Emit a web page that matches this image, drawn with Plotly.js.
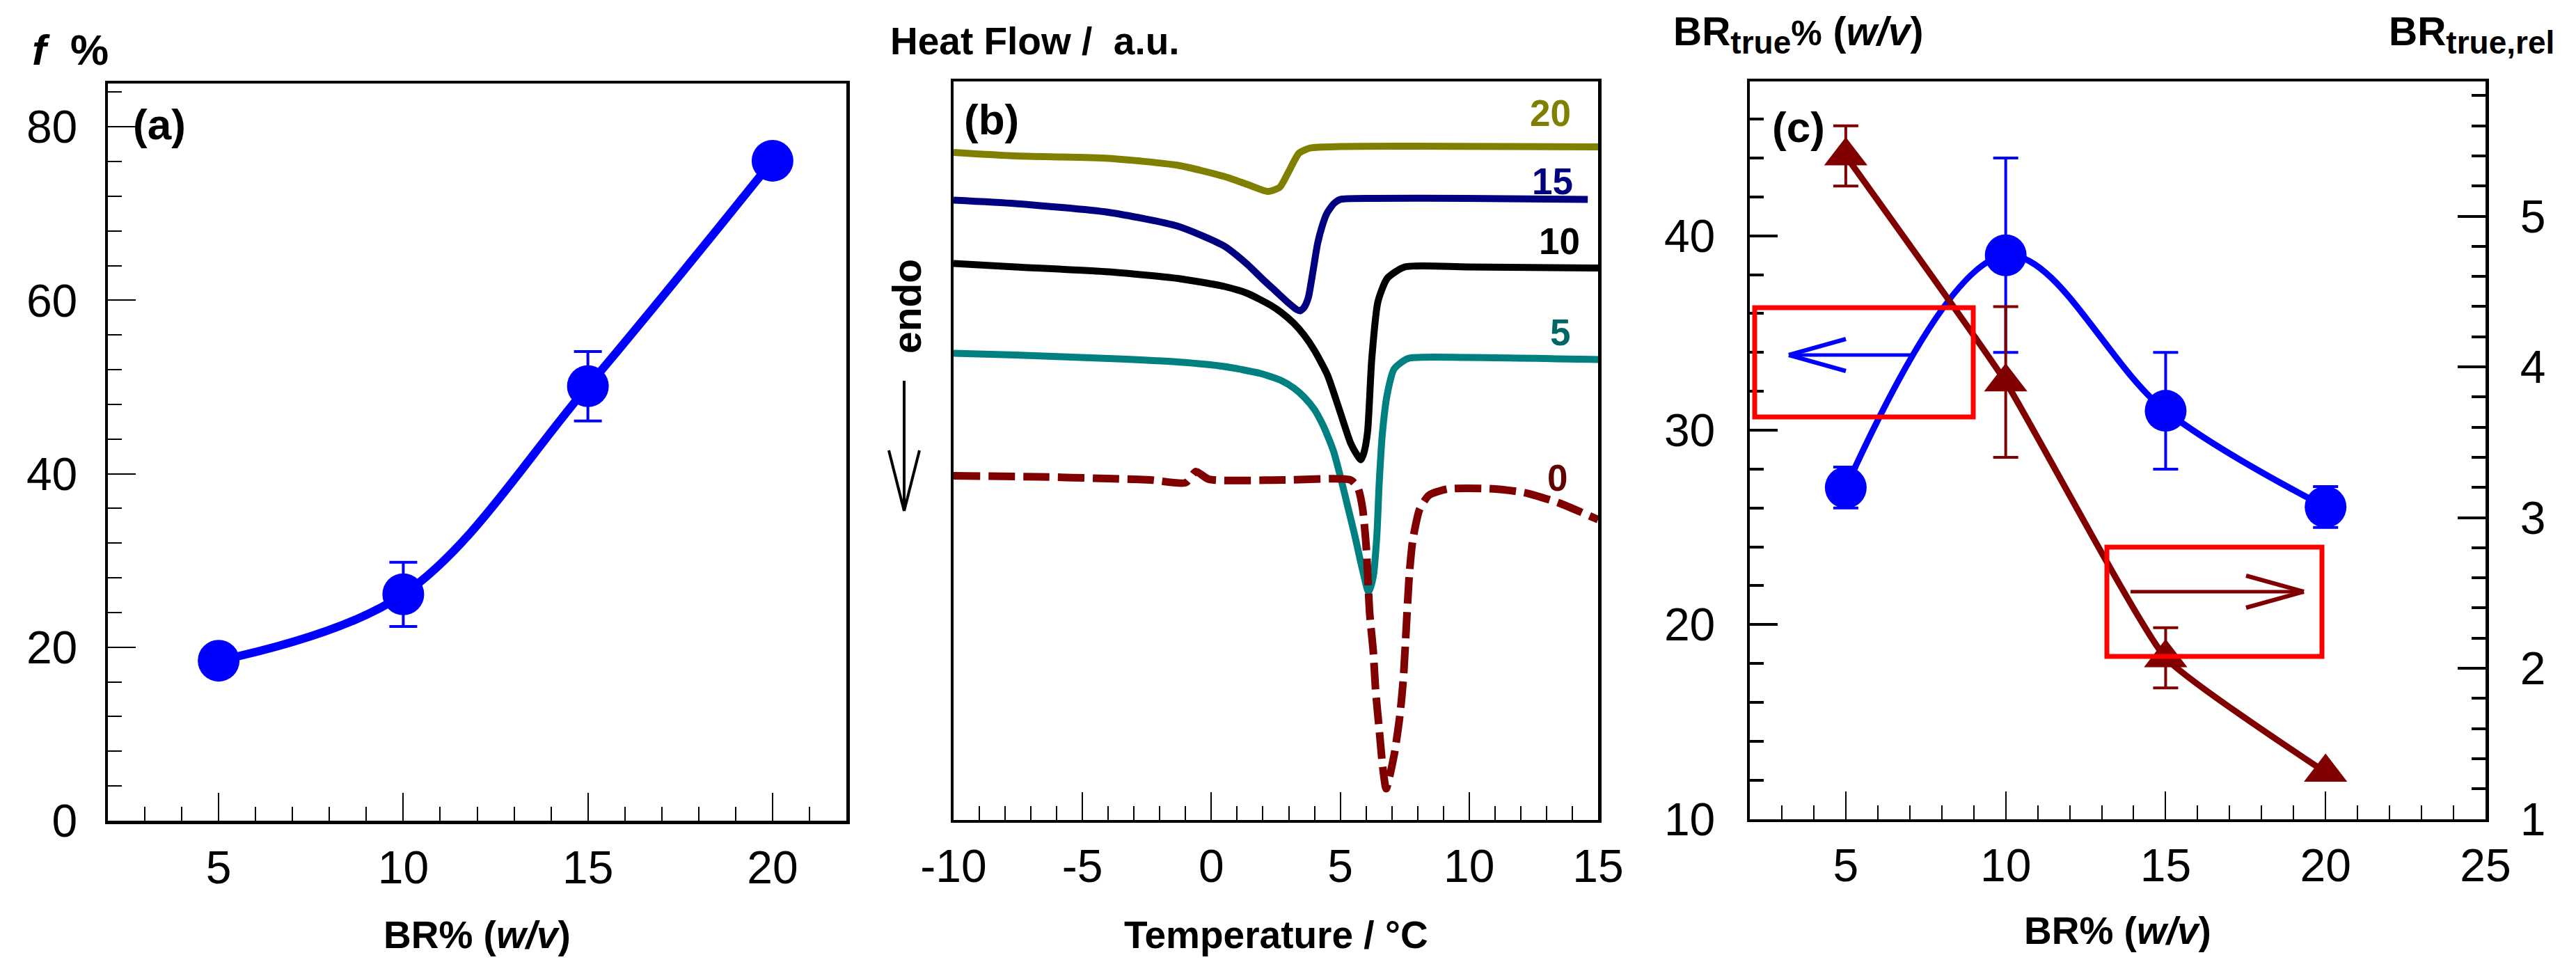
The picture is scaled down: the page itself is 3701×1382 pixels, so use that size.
<!DOCTYPE html>
<html>
<head>
<meta charset="utf-8">
<script src="https://cdn.plot.ly/plotly-3.0.1.min.js"></script>
<style>html,body{margin:0;padding:0;background:#fff;}#chart{width:3701px;height:1382px;}</style>
</head>
<body>
<div id="chart"></div>
<script>
// ---------- Panel (a): f % vs BR% ----------
const brA = [5, 10, 15, 20];
const fA = [18.45, 26.1, 50.1, 76.1];
const fErrA = [1.5, 3.7, 4.0, 1.5];

// ---------- Panel (b): DSC curves (Temperature / °C, heat flow a.u.) ----------
const tB20 = [-10, -7.6, -4.0, -1.3, 0.5, 1.4, 2.2, 2.65, 3.0, 3.4, 3.85, 5.0, 7.2, 11.7, 15];
const hB20 = [95.85, 95.35, 95.0, 94.0, 92.4, 91.25, 90.25, 90.85, 93.1, 95.75, 96.5, 96.7, 96.75, 96.7, 96.65];

const tB15 = [-10, -7.6, -4.0, -1.3, 0.5, 1.4, 2.0, 2.5, 3.0, 3.3, 3.45, 3.6, 3.76, 3.94, 4.12, 4.3, 4.48, 4.75, 5.0, 6.3, 9.9, 14.6];
const hB15 = [89.0, 88.5, 87.25, 85.25, 82.4, 79.75, 77.6, 75.9, 74.2, 73.3, 73.1, 73.6, 75.0, 78.75, 82.75, 85.3, 87.1, 88.5, 89.1, 89.25, 89.25, 89.1];

const tB10 = [-10, -7.6, -4.0, -1.3, 0.5, 1.4, 2.3, 2.7, 3.2, 3.6, 4.0, 4.5, 5.0, 5.4, 5.65, 5.8, 5.92, 6.06, 6.22, 6.46, 6.82, 7.5, 9.9, 15];
const hB10 = [79.9, 79.4, 78.7, 77.75, 76.6, 75.6, 73.9, 72.9, 71.3, 69.6, 67.4, 63.9, 58.5, 54.1, 52.4, 51.7, 52.75, 55.75, 66.1, 74.4, 77.75, 79.4, 79.4, 79.25];

const tB5 = [-10, -7.6, -4.0, -1.3, 0.5, 1.9, 2.7, 3.2, 3.6, 4.0, 4.3, 4.44, 4.75, 5.02, 5.29, 5.56, 5.83, 6.1, 6.28, 6.42, 6.51, 6.64, 6.82, 7.09, 7.63, 9.9, 15];
const hB5 = [67.0, 66.75, 66.25, 65.75, 65.1, 64.1, 63.1, 62.0, 60.7, 58.9, 56.9, 55.75, 52.8, 49.06, 44.97, 40.88, 36.42, 32.7, 34.93, 40.88, 48.32, 55.75, 61.08, 64.75, 66.25, 66.4, 66.1];

const tB0 = [-10, -6.7, -4.0, -2.35, -1.0, -0.6, -0.1, 2.8, 5.4, 5.69, 5.87, 6.01, 6.14, 6.28, 6.37, 6.51, 6.64, 6.78, 7.09, 7.31, 7.45, 7.59, 7.68, 7.81, 8.08, 8.44, 9.16, 10.78, 12.13, 13.48, 15];
const hB0 = [49.4, 49.25, 49.0, 48.8, 48.4, 50.0, 48.9, 48.8, 48.8, 47.6, 44.6, 39.0, 29.7, 24.15, 18.6, 13.0, 7.8, 4.45, 9.3, 14.9, 20.4, 29.7, 35.3, 40.1, 44.6, 46.6, 47.5, 47.55, 47.0, 45.5, 43.1];

const curveLabels = ['20', '15', '10', '5', '0'];
const tempTickVals = [-10, -5, 0, 5, 10, 15];
const tempTickText = ['-10', '-5', '0', '5', '10', '15'];

// ---------- Panel (c): BRtrue and BRtrue,rel vs BR% ----------
const brC = [5, 10, 15, 20];
const brTrue = [27.05, 39.0, 31.0, 26.05];
const brTrueErr = [1.05, 5.0, 3.0, 1.05];
const brRel = [5.40, 3.90, 2.07, 1.31];
const brRelErr = [0.2, 0.5, 0.2, 0];

// ---------- helpers (page pixel -> paper) ----------
const W = 3701, H = 1382;
const px = v => v / W;
const py = v => 1 - v / H;
const FONT = 'Liberation Sans, Arial, sans-serif';

const traces = [
  {x: brA, y: fA, xaxis: 'x', yaxis: 'y', type: 'scatter', mode: 'lines+markers',
   line: {color: '#0000FF', width: 12, shape: 'spline', smoothing: 1},
   marker: {color: '#0000FF', size: 60},
   error_y: {type: 'data', array: fErrA, visible: true, color: '#0000FF', thickness: 4, width: 20}},

  {x: tB20, y: hB20, xaxis: 'x2', yaxis: 'y2', type: 'scatter', mode: 'lines', name: curveLabels[0],
   line: {color: '#808000', width: 10, shape: 'spline', smoothing: 0.6}},
  {x: tB15, y: hB15, xaxis: 'x2', yaxis: 'y2', type: 'scatter', mode: 'lines', name: curveLabels[1],
   line: {color: '#000080', width: 10, shape: 'spline', smoothing: 0.6}},
  {x: tB10, y: hB10, xaxis: 'x2', yaxis: 'y2', type: 'scatter', mode: 'lines', name: curveLabels[2],
   line: {color: '#000000', width: 10, shape: 'spline', smoothing: 0.6}},
  {x: tB5, y: hB5, xaxis: 'x2', yaxis: 'y2', type: 'scatter', mode: 'lines', name: curveLabels[3],
   line: {color: '#008080', width: 10, shape: 'spline', smoothing: 0.6}},
  {x: tB0, y: hB0, xaxis: 'x2', yaxis: 'y2', type: 'scatter', mode: 'lines', name: curveLabels[4],
   line: {color: '#800000', width: 11, shape: 'spline', smoothing: 0.6, dash: '38px,12px'}},

  {x: brC, y: brTrue, xaxis: 'x3', yaxis: 'y3', type: 'scatter', mode: 'lines+markers',
   line: {color: '#0000FF', width: 9, shape: 'spline', smoothing: 1},
   marker: {color: '#0000FF', size: 60},
   error_y: {type: 'data', array: brTrueErr, visible: true, color: '#0000FF', thickness: 4, width: 18}},
  {x: brC, y: brRel, xaxis: 'x3', yaxis: 'y4', type: 'scatter', mode: 'lines+markers',
   line: {color: '#800000', width: 9, shape: 'spline', smoothing: 0.4},
   marker: {color: '#800000', size: 54, symbol: 'triangle-up'},
   error_y: {type: 'data', array: brRelErr, visible: true, color: '#800000', thickness: 4, width: 18}}
];

const tickFont = {family: FONT, size: 66, color: '#000'};
function xAx(domain, anchor, range, dtick, minorDtick) {
  return {domain, anchor, range, tick0: 0, dtick, ticks: 'inside', ticklen: 40, tickwidth: 2, tickcolor: '#000',
    minor: {dtick: minorDtick, tick0: 0, ticks: 'inside', ticklen: 20, tickwidth: 2, tickcolor: '#000'},
    showline: true, linewidth: 4.5, linecolor: '#000', mirror: true, showgrid: false, zeroline: false,
    tickfont: tickFont, ticklabelstandoff: 6, fixedrange: true};
}
function yAx(domain, anchor, range, dtick, minorDtick, tw, standoff) {
  return {domain, anchor, range, tick0: 0, dtick, ticks: 'inside', ticklen: 40, tickwidth: tw, tickcolor: '#000',
    minor: {dtick: minorDtick, tick0: 0, ticks: 'inside', ticklen: 20, tickwidth: tw, tickcolor: '#000'},
    showline: true, linewidth: 4.5, linecolor: '#000', mirror: true, showgrid: false, zeroline: false,
    tickfont: tickFont, ticklabelstandoff: standoff, fixedrange: true};
}

const xB = xAx([px(1370), px(2296)], 'y2', [-10, 15], 5, 1);
xB.tickmode = 'array';
xB.tickvals = tempTickVals;
xB.ticktext = tempTickText;

const layout = {
  width: W, height: H, margin: {l: 0, r: 0, t: 0, b: 0},
  paper_bgcolor: '#fff', plot_bgcolor: '#fff', showlegend: false, hovermode: false,
  font: {family: FONT, color: '#000'},
  xaxis: xAx([px(155), px(1216)], 'y', [2, 22], 5, 1),
  yaxis: yAx([py(1179), py(120)], 'x', [0, 85], 20, 4, 2, 26),
  xaxis2: xB,
  yaxis2: {domain: [py(1177.5), py(117)], anchor: 'x2', range: [0, 106.05], showticklabels: false, ticks: '',
    showline: true, linewidth: 4.5, linecolor: '#000', mirror: true, showgrid: false, zeroline: false, fixedrange: true},
  xaxis3: xAx([px(2514), px(3571)], 'y3', [2, 25], 5, 1),
  yaxis3: yAx([py(1176.6), py(117)], 'x3', [10, 47.94], 10, 2, 4, 32),
  yaxis4: Object.assign(yAx([py(1176.6), py(117)], 'x3', [1, 5.894], 1, 0.2, 4, 32),
    {overlaying: 'y3', side: 'right', mirror: false}),
  annotations: [
    // y titles on top
    {text: '<b><i>f</i>&nbsp;&nbsp;%</b>', xref: 'paper', yref: 'paper', x: px(44), y: py(71), xanchor: 'left', yanchor: 'middle', showarrow: false, font: {size: 62}},
    {text: '<b>Heat Flow /&nbsp;&nbsp;a.u.</b>', xref: 'paper', yref: 'paper', x: px(1277), y: py(59), xanchor: 'left', yanchor: 'middle', showarrow: false, font: {size: 55}},
    {text: '<b>BR<sub><span style="font-size:46px">true</span></sub><span style="font-size:50px">%</span> (<i>w/v</i>)</b>', xref: 'paper', yref: 'paper', x: px(2402), y: py(50), xanchor: 'left', yanchor: 'middle', showarrow: false, font: {size: 57}},
    {text: '<b>BR<sub><span style="font-size:46px">true,rel</span></sub></b>', xref: 'paper', yref: 'paper', x: px(3672), y: py(50), xanchor: 'right', yanchor: 'middle', showarrow: false, font: {size: 57}},
    // x titles
    {text: '<b>BR% (<i>w/v</i>)</b>', xref: 'paper', yref: 'paper', x: px(685), y: py(1343), xanchor: 'center', yanchor: 'middle', showarrow: false, font: {size: 55}},
    {text: '<b>Temperature / °C</b>', xref: 'paper', yref: 'paper', x: px(1833), y: py(1343), xanchor: 'center', yanchor: 'middle', showarrow: false, font: {size: 55}},
    {text: '<b>BR% (<i>w/v</i>)</b>', xref: 'paper', yref: 'paper', x: px(3042), y: py(1337), xanchor: 'center', yanchor: 'middle', showarrow: false, font: {size: 55}},
    // panel letters
    {text: '<b>(a)</b>', xref: 'paper', yref: 'paper', x: px(189), y: py(179), xanchor: 'left', yanchor: 'middle', showarrow: false, font: {size: 62}},
    {text: '<b>(b)</b>', xref: 'paper', yref: 'paper', x: px(1383), y: py(171), xanchor: 'left', yanchor: 'middle', showarrow: false, font: {size: 62}},
    {text: '<b>(c)</b>', xref: 'paper', yref: 'paper', x: px(2544), y: py(182), xanchor: 'left', yanchor: 'middle', showarrow: false, font: {size: 62}},
    // endo
    {text: '<b>endo</b>', xref: 'paper', yref: 'paper', x: px(1303), y: py(440), xanchor: 'center', yanchor: 'middle', textangle: -90, showarrow: false, font: {size: 57}},
    // curve labels (b)
    {text: '<b>' + curveLabels[0] + '</b>', xref: 'paper', yref: 'paper', x: px(2227), y: py(162), xanchor: 'center', yanchor: 'middle', showarrow: false, font: {size: 53, color: '#808000'}},
    {text: '<b>' + curveLabels[1] + '</b>', xref: 'paper', yref: 'paper', x: px(2230), y: py(260), xanchor: 'center', yanchor: 'middle', showarrow: false, font: {size: 53, color: '#000080'}},
    {text: '<b>' + curveLabels[2] + '</b>', xref: 'paper', yref: 'paper', x: px(2240), y: py(347), xanchor: 'center', yanchor: 'middle', showarrow: false, font: {size: 53, color: '#000000'}},
    {text: '<b>' + curveLabels[3] + '</b>', xref: 'paper', yref: 'paper', x: px(2241), y: py(478), xanchor: 'center', yanchor: 'middle', showarrow: false, font: {size: 53, color: '#006666'}},
    {text: '<b>' + curveLabels[4] + '</b>', xref: 'paper', yref: 'paper', x: px(2237), y: py(686), xanchor: 'center', yanchor: 'middle', showarrow: false, font: {size: 53, color: '#600000'}}
  ],
  shapes: [
    // endo arrow
    {type: 'line', xref: 'paper', yref: 'paper', x0: px(1299), y0: py(547), x1: px(1299), y1: py(734), line: {color: '#000', width: 4}},
    {type: 'line', xref: 'paper', yref: 'paper', x0: px(1277), y0: py(647), x1: px(1299), y1: py(734), line: {color: '#000', width: 4}},
    {type: 'line', xref: 'paper', yref: 'paper', x0: px(1321), y0: py(647), x1: px(1299), y1: py(734), line: {color: '#000', width: 4}},
    // box + left arrow (panel c)
    {type: 'rect', xref: 'paper', yref: 'paper', x0: px(2521), y0: py(599), x1: px(2835), y1: py(442), line: {color: '#FF0000', width: 7}, layer: 'above'},
    {type: 'line', xref: 'paper', yref: 'paper', x0: px(2746), y0: py(510), x1: px(2572), y1: py(510), line: {color: '#0000FF', width: 5}},
    {type: 'line', xref: 'paper', yref: 'paper', x0: px(2652), y0: py(487), x1: px(2570), y1: py(510), line: {color: '#0000FF', width: 6}},
    {type: 'line', xref: 'paper', yref: 'paper', x0: px(2652), y0: py(533), x1: px(2570), y1: py(510), line: {color: '#0000FF', width: 6}},
    // box + right arrow (panel c)
    {type: 'rect', xref: 'paper', yref: 'paper', x0: px(3027), y0: py(943), x1: px(3336), y1: py(786), line: {color: '#FF0000', width: 7}, layer: 'above'},
    {type: 'line', xref: 'paper', yref: 'paper', x0: px(3061), y0: py(850), x1: px(3308), y1: py(850), line: {color: '#800000', width: 5}},
    {type: 'line', xref: 'paper', yref: 'paper', x0: px(3227), y0: py(827), x1: px(3310), y1: py(850), line: {color: '#800000', width: 6}},
    {type: 'line', xref: 'paper', yref: 'paper', x0: px(3227), y0: py(873), x1: px(3310), y1: py(850), line: {color: '#800000', width: 6}}
  ]
};

Plotly.newPlot('chart', traces, layout, {staticPlot: true, displayModeBar: false});
</script>
</body>
</html>
